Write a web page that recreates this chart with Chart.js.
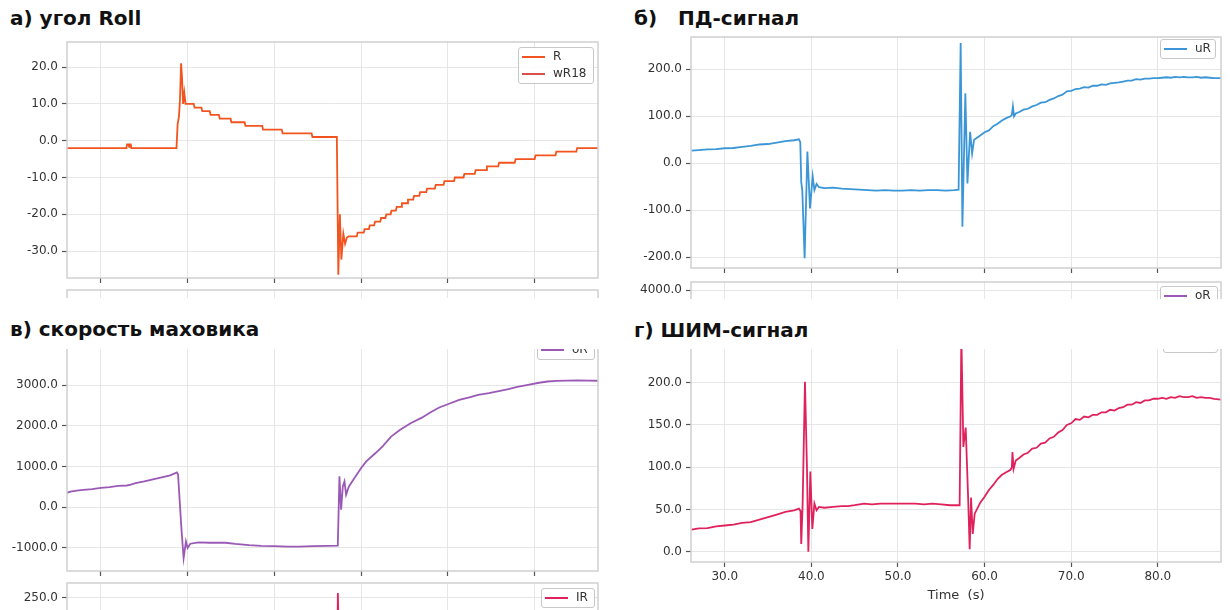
<!DOCTYPE html>
<html><head><meta charset="utf-8">
<script src="https://cdn.jsdelivr.net/npm/chart.js@4.4.1/dist/chart.umd.min.js"></script>
<style>
html,body{margin:0;padding:0;background:#fff;}
body{width:1230px;height:610px;position:relative;overflow:hidden;font-family:'DejaVu Sans',sans-serif;}
.clip{position:absolute;overflow:hidden;}
.clip canvas{position:absolute;left:0;}
.ttl{position:absolute;font-family:'DejaVu Sans',sans-serif;font-weight:bold;font-size:20px;line-height:20px;color:#111;white-space:pre;z-index:5;}
</style></head><body>
<div class="ttl" style="left:10px;top:8px">а) угол Roll</div>
<div class="ttl" style="left:634px;top:8px">б)   ПД-сигнал</div>
<div class="ttl" style="left:10px;top:319px">в) скорость маховика</div>
<div class="ttl" style="left:634px;top:320px">г) ШИМ-сигнал</div>
<script>
// ---------- DATA ----------
const X_MIN = 26.1, X_MAX = 87.3;
const xTickValues = [30, 40, 50, 60, 70, 80];
const xTitle = 'Time  (s)';
const yTicksRoll = [-30, -20, -10, 0, 10, 20];
const yTicksPD = [-200, -100, 0, 100, 200];
const yTicksWheel = [-1000, 0, 1000, 2000, 3000, 4000];
const yTicksPWM = [0, 50, 100, 150, 200, 250];

// а) Roll angle R (deg)
const tR = [26.1,32.95,33.02,33.2,33.26,33.32,33.45,33.52,38.72,38.85,39.0,39.12,39.25,39.36,39.48,39.62,39.76,
  40.7,40.8,41.59,41.69,42.55,42.65,43.6,43.7,44.95,45.05,46.57,46.67,48.6,48.7,50.85,50.95,54.29,54.39,57.2,
  57.37,57.55,57.72,57.95,58.15,58.35,58.55,
  59.5,59.6,60.3,60.4,60.9,61.0,61.5,61.6,62.2,62.3,62.8,62.9,63.4,63.5,64.0,64.1,64.6,64.7,65.3,65.4,66.0,66.1,
  66.7,66.8,67.5,67.6,68.5,68.6,69.5,69.6,70.7,70.8,71.8,71.9,73.1,73.2,74.4,74.5,75.8,75.9,77.7,77.8,80.0,80.1,
  82.4,82.5,84.8,84.9,87.3];
const vR = [-2,-2,-1,-1,-1.7,-1,-1,-2,-2,4.5,6.5,11,21,17,10,13,10,
  10,9,9,8,8,7,7,6,6,5,5,4,4,3,3,2,2,1,1,
  -36.4,-20,-32.3,-25.3,-28,-26.4,-26,
  -26,-25,-25,-24,-24,-23,-23,-22,-22,-21,-21,-20,-20,-19,-19,-18,-18,-17,-17,-16,-16,-15,
  -15,-14,-14,-13,-13,-12,-12,-11,-11,-10,-10,-9,-9,-8,-8,-7,-7,-6,-6,-5,-5,-4,
  -4,-3,-3,-2,-2];
const tWR18 = [];
const vWR18 = [];

// б) PD signal uR
const tU = [26.15,27,28,29,30,31,32,33,34,35,36,37,38,38.56,38.72,38.83,38.95,39.22,39.54,39.84,40.15,40.35,40.6,40.88,
  41.5,42.5,43.5,44.5,45.5,46.5,47.5,48.5,49.5,50.5,51.5,52.5,53.5,54.5,55.5,56.5,57.0,
  57.24,57.44,57.78,58.02,58.33,58.56,58.79,59.5,60,60.5,61,61.5,62,62.5,63,63.15,63.27,63.4,63.6,64,64.5,65,65.5,66,66.5,
  67,67.5,68,68.5,69,69.5,70,70.5,71,71.5,72,72.5,73,73.5,74,74.5,75,75.5,76,76.5,77,77.5,78,78.5,79,79.5,80,80.5,
  81,81.5,82,82.5,83,83.5,84,84.5,85,85.5,86,86.5,87.3];
const vU = [27,28,29.5,30,32,32.5,35,37,40,41,44,47,49,51,45,-40,-57,-202,25,-96,-28,-57,-44,-51,
  -53,-52,-54,-55,-56,-57,-58,-57,-58,-58,-57,-58,-57,-57,-58,-57,-56,
  256,-135,149,-43,67,21,50,59,66,70,79,84,91,96,100,103,121,100,106,109,114,116,121,124,129,
  130,135,138,143,146,153,154,158,159,162,161,165,165,168,167,170,171,172,174,176,176,179,178,180,180,181,181,182,
  183,182,184,183,184,183,183,184,182,183,182,181,181];

// в) wheel speed
const tW = [26.1,26.5,27.2,28,29,30,31,32,33,33.45,34,35,36,37,38,38.77,38.9,39.27,39.54,39.81,40.0,40.31,41.27,42.5,44.37,
  45.5,47.07,48.5,50,51.5,52.86,54.5,56,57.31,57.5,57.69,57.89,58.08,58.27,58.59,59.0,59.39,60.0,60.59,61.64,62.5,63.45,
  64.5,65.7,67,67.96,69,70.21,71.3,72.47,73.5,74.72,76,76.98,78,79.23,80.5,81.49,82.5,83.75,85,86.2,87.3];
const vW = [350,380,405,420,440,470,490,520,530,550,590,630,680,730,780,850,800,-478,-1256,-847,-1010,-904,-872,-880,-880,
  -910,-940,-955,-961,-975,-975,-965,-955,-950,754,-66,507,631,303,507,640,764,960,1123,1323,1500,1734,
  1900,2063,2200,2326,2450,2550,2640,2700,2760,2803,2860,2902,2960,3009,3060,3091,3105,3115,3118,3115,3110];

// г) PWM signal IR
const tI = [26.15,27,28,29,30,31,32,33,34,35,36,37,38,38.56,38.75,38.83,38.99,39.26,39.49,39.65,39.88,40.11,40.35,40.6,40.88,
  41.5,42.5,43.5,44.2,45,46.1,47,48,49,50,51,52,53,54,55,56,57.12,
  57.32,57.55,57.82,58.1,58.28,58.44,58.63,58.86,59.5,60,60.5,61,61.5,62,62.5,63,63.15,63.22,63.35,63.6,64,64.5,65,65.5,66,66.5,
  67,67.5,68,68.5,69,69.5,70,70.5,71,71.5,72,72.5,73,73.5,74,74.5,75,75.5,76,76.5,77,77.5,78,78.5,79,79.5,80,80.5,
  81,81.5,82,82.5,83,83.5,84,84.5,85,85.5,86,86.5,87.3];
const vI = [26,27.5,28,30,31,32,34,35,38,41,44,47,49,51,48,9,56,201,100,0,95,27,57,49,53,
  52,53,54,54,55,57,56,57,57,57,57,57,56,57,56,55,55,
  256,124,147,64,3,64,21,45,58,65,73,79,86,91,94,97,100,118,98,108,111,115,117,122,123,128,
  129,134,136,141,144,150,152,157,156,160,159,162,162,165,165,168,167,170,171,174,174,177,176,179,179,181,181,182,
  181,183,182,184,183,183,184,182,183,182,182,181,180];

// ---------- DRAWING ----------
Chart.defaults.font.family = "'DejaVu Sans', sans-serif";
Chart.defaults.color = '#333';

const xy = (t, v) => t.map((x, i) => ({x, y: v[i]}));
const COLORS = {R:'#f2541f', wR18:'#d9504a', uR:'#3a96d6', oR:'#9b59b6', IR:'#e0225c'};

const frame = {
  id: 'frame',
  afterDatasetsDraw(chart) {
    const {ctx, chartArea: c} = chart;
    ctx.save();
    ctx.strokeStyle = '#d0d0d0'; ctx.lineWidth = 1.5;
    ctx.strokeRect(c.left, c.top, c.right - c.left, c.bottom - c.top);
    ctx.restore();
  }
};
const mplLegend = {
  id: 'mplLegend',
  afterDraw(chart, args, o) {
    if (!o || !o.box) return;
    const ctx = chart.ctx, b = o.box;
    const items = chart.data.datasets.filter(d => d.label);
    const h = 19 + (items.length - 1) * 17;
    ctx.save();
    ctx.beginPath();
    ctx.roundRect(b.l + 0.5, b.t + 0.5, b.w, h, 2.5);
    ctx.fillStyle = 'rgba(255,255,255,0.85)'; ctx.fill();
    ctx.strokeStyle = '#c8c8c8'; ctx.lineWidth = 1; ctx.stroke();
    items.forEach((d, i) => {
      const y = b.t + 10 + i * 17;
      ctx.beginPath(); ctx.moveTo(b.l + 4, y); ctx.lineTo(b.l + 27, y);
      ctx.strokeStyle = d.borderColor; ctx.lineWidth = 2; ctx.stroke();
      ctx.fillStyle = '#333'; ctx.font = "12px 'DejaVu Sans'"; ctx.textBaseline = 'middle';
      ctx.fillText(d.label, b.l + 35, y);
    });
    ctx.restore();
  }
};

function noPad(sc) { sc.paddingTop = 0; sc.paddingBottom = 0; sc.paddingLeft = 0; sc.paddingRight = 0; }

function panel(s) {
  const wrap = document.createElement('div');
  wrap.className = 'clip';
  Object.assign(wrap.style, {left: s.clip.l + 'px', top: s.clip.t + 'px', width: s.clip.w + 'px', height: s.clip.h + 'px'});
  const cv = document.createElement('canvas');
  cv.width = s.clip.w; cv.height = s.cH;
  cv.style.width = s.clip.w + 'px'; cv.style.height = s.cH + 'px';
  cv.style.top = (s.cTop - s.clip.t) + 'px';
  wrap.appendChild(cv); document.body.appendChild(wrap);
  const yShow = s.yW > 0;
  const pad = {
    left: s.area.l - s.clip.l - (yShow ? s.yW : 0),
    right: s.clip.l + s.clip.w - s.area.r,
    top: s.area.t - s.cTop,
    bottom: s.cTop + s.cH - s.area.b - s.xH
  };
  const grid = {color: '#e6e6e6', lineWidth: 1, tickColor: '#555', tickWidth: 1.2, tickLength: 5};
  const yTicks = (s.yTicks || []).filter(v => v >= s.yMin && v <= s.yMax);
  new Chart(cv, {
    type: 'line',
    data: {datasets: s.datasets.map(d => ({
      label: d.label, data: d.data, borderColor: d.color, backgroundColor: d.color,
      borderWidth: 1.8, pointRadius: 0, tension: 0, fill: false
    }))},
    options: {
      responsive: false, animation: false, devicePixelRatio: 1,
      layout: {padding: pad, autoPadding: false},
      plugins: {legend: {display: false}, tooltip: {enabled: false},
        mplLegend: s.legend ? {box: {l: s.legend.l - s.clip.l, t: s.legend.t - s.cTop, w: s.legend.w}} : {}},
      scales: {
        x: {
          type: 'linear', min: X_MIN, max: X_MAX,
          grid: Object.assign({}, grid, {drawTicks: s.xTicks}),
          border: {display: false},
          afterBuildTicks: sc => { sc.ticks = xTickValues.map(v => ({value: v})); },
          ticks: {display: !!s.xLabels, padding: 3, font: {size: 12}, color: '#333', maxRotation: 0, autoSkip: false,
            callback: v => Number(v).toFixed(1)},
          title: {display: !!s.xTitle, text: s.xTitle || '', font: {size: 13}, color: '#333', padding: {top: 0, bottom: 3}},
          afterFit: sc => { sc.height = s.xH; noPad(sc); }
        },
        y: {
          type: 'linear', display: yShow, min: s.yMin, max: s.yMax,
          grid: Object.assign({}, grid, {drawTicks: true}),
          border: {display: false},
          afterBuildTicks: sc => { sc.ticks = yTicks.map(v => ({value: v})); },
          ticks: {padding: 4, font: {size: 12}, color: '#333', autoSkip: false, callback: v => Number(v).toFixed(1)},
          afterFit: sc => { sc.width = s.yW; noPad(sc); }
        }
      }
    },
    plugins: [frame, mplLegend]
  });
}

// а) main
panel({clip: {l: 0, t: 36, w: 610, h: 252}, cTop: 36, cH: 252, area: {l: 67, t: 42, r: 598, b: 278},
  yW: 67, xH: 6, xTicks: true, yMin: -37.3, yMax: 26.8, yTicks: yTicksRoll,
  datasets: [{label: 'R', data: xy(tR, vR), color: COLORS.R}, {label: 'wR18', data: xy(tWR18, vWR18), color: COLORS.wR18}],
  legend: {l: 518, t: 47, w: 75}});
// sliver below а)
panel({clip: {l: 0, t: 289, w: 610, h: 9}, cTop: 289, cH: 80, area: {l: 67, t: 290, r: 598, b: 369},
  yW: 0, xH: 0, xTicks: false, yMin: 0, yMax: 1, yTicks: [], datasets: []});
// б) main
panel({clip: {l: 610, t: 30, w: 620, h: 250}, cTop: 30, cH: 250, area: {l: 691, t: 37, r: 1221, b: 268},
  yW: 81, xH: 6, xTicks: true, yMin: -222.8, yMax: 268.7, yTicks: yTicksPD,
  datasets: [{label: 'uR', data: xy(tU, vU), color: COLORS.uR}],
  legend: {l: 1160, t: 39, w: 55}});
// sliver below б) (wheel speed panel top)
panel({clip: {l: 610, t: 280, w: 620, h: 19}, cTop: 280, cH: 200, area: {l: 691, t: 282, r: 1221, b: 480},
  yW: 81, xH: 0, xTicks: false, yMin: -633, yMax: 4197, yTicks: yTicksWheel,
  datasets: [{label: 'oR', data: xy(tW, vW), color: COLORS.oR}],
  legend: {l: 1160, t: 286, w: 57}});
// в) main
panel({clip: {l: 0, t: 349, w: 610, h: 232}, cTop: 320, cH: 261, area: {l: 67, t: 337, r: 598, b: 571},
  yW: 67, xH: 6, xTicks: true, yMin: -1576, yMax: 4187, yTicks: yTicksWheel,
  datasets: [{label: 'oR', data: xy(tW, vW), color: COLORS.oR}],
  legend: {l: 537, t: 340, w: 57}});
// sliver below в) (PWM panel top)
panel({clip: {l: 0, t: 582, w: 610, h: 28}, cTop: 582, cH: 200, area: {l: 67, t: 583, r: 598, b: 782},
  yW: 67, xH: 0, xTicks: false, yMin: 32.2, yMax: 267.75, yTicks: yTicksPWM,
  datasets: [{label: 'IR', data: xy(tI, vI), color: COLORS.IR}],
  legend: {l: 541, t: 588, w: 53}});
// г) main
panel({clip: {l: 610, t: 349, w: 620, h: 261}, cTop: 320, cH: 290, area: {l: 691, t: 330, r: 1221, b: 562},
  yW: 81, xH: 44, xTicks: true, xLabels: true, xTitle: xTitle, yMin: -12.2, yMax: 262.4, yTicks: yTicksPWM,
  datasets: [{label: 'IR', data: xy(tI, vI), color: COLORS.IR}],
  legend: {l: 1163, t: 333, w: 54}});
</script>
</body></html>
